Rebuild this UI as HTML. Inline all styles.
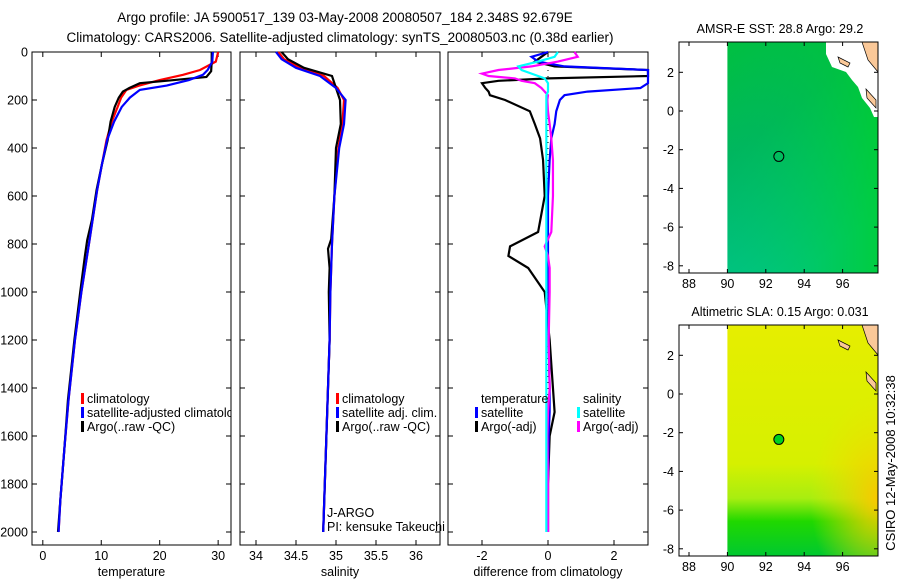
<!DOCTYPE html>
<html><head><meta charset="utf-8"><style>
body{margin:0;background:#fff;}
svg{display:block;font-family:"Liberation Sans",sans-serif;}
</style></head><body>
<svg id="chart" width="900" height="580" viewBox="0 0 900 580" xmlns="http://www.w3.org/2000/svg">
<defs>
<linearGradient id="sstg" x1="0" y1="0" x2="0.5" y2="1">
<stop offset="0" stop-color="#00c040"/><stop offset="0.4" stop-color="#00b660"/><stop offset="1" stop-color="#00c88e"/>
</linearGradient>
<linearGradient id="sstr" x1="0" y1="0" x2="1" y2="0">
<stop offset="0" stop-color="#00c040" stop-opacity="0"/><stop offset="1" stop-color="#00d020" stop-opacity="0.7"/>
</linearGradient>
<linearGradient id="slag" x1="0" y1="0" x2="0" y2="1">
<stop offset="0" stop-color="#e6ee00"/><stop offset="0.6" stop-color="#d6f000"/><stop offset="0.75" stop-color="#a8ee10"/><stop offset="0.85" stop-color="#20d800"/><stop offset="1" stop-color="#00c830"/>
</linearGradient>
<radialGradient id="slao" cx="1" cy="0.75" r="0.45">
<stop offset="0" stop-color="#f8c800"/><stop offset="1" stop-color="#f0e000" stop-opacity="0"/>
</radialGradient>
</defs>
<g id="titles">
<text x="345" y="22" font-size="13.5" text-anchor="middle">Argo profile: JA 5900517_139 03-May-2008 20080507_184 2.348S 92.679E</text>
<text x="340" y="42" font-size="13.5" text-anchor="middle">Climatology: CARS2006. Satellite-adjusted climatology: synTS_20080503.nc (0.38d earlier)</text>
<text transform="translate(895,463) rotate(-90)" font-size="13" text-anchor="middle">CSIRO 12-May-2008 10:32:38</text>
</g>
<g id="plots"></g>
</svg>
<script>
// depth levels (m) for temperature/salinity profiles
const tDepthClim = [0,40,75,95,117,140,158,190,229,290,367,470,575,783,1000,1200,1450,1650,1867,2000];
const tempClim  = [30,29.6,26.9,24,20,16.5,14.3,13.4,12.8,11.8,10.9,10.1,9.3,8,6.6,5.5,4.4,3.7,3.0,2.7];
const tempSat   = [29.1,29.0,28.2,27.4,25,21.2,16.6,14.9,13.5,12.2,11,10.1,9.3,8,6.6,5.5,4.4,3.7,3.0,2.7];
const tDepthArgo = [0,40,80,104,118,130,150,165,190,229,290,367,470,575,700,783,850,1000,1200,1450,1650,1867,2000];
const tempArgo  = [28.9,28.9,28.8,28.0,22,16.6,14.8,13.7,13.0,12.3,11.6,11.1,10.1,9.2,8.4,7.6,7.2,6.4,5.4,4.3,3.7,3.0,2.6];
const sDepth   = [0,30,66,100,150,200,300,400,600,800,1000,1200,1400,1600,1800,2000];
const salClim  = [34.28,34.35,34.55,34.85,35.02,35.1,35.08,35.03,34.98,34.95,34.93,34.92,34.9,34.88,34.86,34.84];
const salSat   = [34.25,34.32,34.5,34.8,35.0,35.12,35.1,35.04,34.98,34.95,34.93,34.92,34.9,34.88,34.86,34.84];
const sDepthArgo = [0,30,66,100,150,200,300,400,600,780,820,900,1000,1200,1400,1600,1800,2000];
const salArgo  = [34.32,34.4,34.6,34.95,35.0,35.05,35.06,35.0,34.98,34.94,34.9,34.92,34.91,34.92,34.9,34.88,34.86,34.84];
// differences from climatology
const dDepth = [0,20,40,60,75,90,100,110,120,130,150,165,180,200,247,300,360,450,600,750,810,850,900,1000,1200,1400,1500,1600,1800,2000];
const dTempArgo = [0,-0.2,-0.4,0.2,3.1,3.1,3.1,0,-1.5,-2.0,-1.9,-1.8,-1.76,-1.3,-0.55,-0.4,-0.24,-0.15,-0.1,-0.3,-1.15,-1.2,-0.6,-0.1,0.05,0.15,0.2,0.05,0,0];
const dTempSat = [0,-0.5,-0.3,0.5,3.1,3.1,3.1,3.1,3.1,3.1,2.8,1.2,0.5,0.36,0.25,0.2,0.1,0.05,0,0,0,0,0,0.02,0.02,0.05,0.05,0.02,0,0];
const dSalArgo = [0.8,0.9,0.3,-0.5,-1.5,-2.0,-1.8,-1.0,-0.8,-0.4,-0.2,-0.1,0,-0.02,0,0.05,0.1,0.15,0.15,0.1,-0.1,0.0,0.05,0.05,0.02,0.05,0.0,-0.02,0,0];
const dSalSat = [0.3,0.2,-0.3,-0.9,-0.8,-0.5,-0.3,-0.1,-0.05,0,0,0,-0.05,-0.05,-0.05,-0.05,-0.05,-0.05,-0.05,-0.05,-0.05,-0.05,-0.05,-0.05,-0.05,-0.05,-0.05,-0.05,-0.05,-0.05];
const depthTicks = [0,200,400,600,800,1000,1200,1400,1600,1800,2000];
const tempTicks = [0,10,20,30];
const salTicks = [34,34.5,35,35.5,36];
const diffTicks = [-2,0,2];
const lonTicks = [88,90,92,94,96];
const latTicks = [2,0,-2,-4,-6,-8];
const floatPos = [92.679,-2.348];

const NS="http://www.w3.org/2000/svg";
const root=document.getElementById('plots');
function mk(tag,attrs,parent){const e=document.createElementNS(NS,tag);for(const k in attrs)e.setAttribute(k,attrs[k]);(parent||root).appendChild(e);return e;}
const yD=d=>52+d*0.24;

function panel(name,x0,x1,xmin,xmax,xticks,xlabel,showY){
  const g=mk('g',{});
  
  
  const xs=v=>x0+(v-xmin)/(xmax-xmin)*(x1-x0);
  mk('rect',{x:x0,y:52,width:x1-x0,height:493,fill:'none',stroke:'#000','stroke-width':1},g);
  xticks.forEach(t=>{const x=xs(t);
    mk('line',{x1:x,x2:x,y1:52,y2:57,stroke:'#000'},g);
    mk('line',{x1:x,x2:x,y1:545,y2:540,stroke:'#000'},g);
    const tx=mk('text',{x:x,y:560,'font-size':12.5,'text-anchor':'middle'},g);
    
    
    tx.textContent=t;});
  depthTicks.forEach(d=>{const y=yD(d);
    mk('line',{x1:x0,x2:x0+5,y1:y,y2:y,stroke:'#000'},g);
    mk('line',{x1:x1,x2:x1-5,y1:y,y2:y,stroke:'#000'},g);
    if(showY){const tx=mk('text',{x:x0-4,y:y+4.5,'font-size':12.5,'text-anchor':'end'},g);
      
      
      tx.textContent=d;}});
  const lb=mk('text',{x:(x0+x1)/2,y:576,'font-size':12.5,'text-anchor':'middle'},g);
  
  
  lb.textContent=xlabel;
  return {g,xs};
}
function line(p,vals,depths,color,w,name){
  const pts=vals.map((v,i)=>[Math.max(p.x0,Math.min(p.x1,p.xs(v))),yD(depths[i])].join(',')).join(' ');
  const l=mk('polyline',{points:pts,fill:'none',stroke:color,'stroke-width':w},p.g);
  
  
}
function legend(g,x,y,items){
  items.forEach((it,i)=>{const yy=y+i*14;
    if(it[1]){const r=mk('rect',{x:x,y:yy-10,width:3,height:11,fill:it[1]},g);
      
      }
    const t=mk('text',{x:x+6,y:yy,'font-size':12.5},g);
    
    
    t.textContent=it[0];});
}
// temperature panel
let p1=panel('temperature-panel',32,231,-1.85,32.2,tempTicks,'temperature',true);p1.x0=32;p1.x1=231;
line(p1,tempClim,tDepthClim,'#f00',2.2,'temp-climatology-line');
line(p1,tempArgo,tDepthArgo,'#000',2.2,'temp-argo-line');
line(p1,tempSat,tDepthClim,'#00f',2.2,'temp-satellite-line');
const cl=mk('svg',{x:32,y:52,width:199,height:493,overflow:'hidden'},p1.g);
legend(cl,49,351,[['climatology','#f00'],['satellite-adjusted climatology','#00f'],['Argo(..raw -QC)','#000']]);
// salinity panel
let p2=panel('salinity-panel',240,440,33.8,36.3,salTicks,'salinity',false);p2.x0=240;p2.x1=440;
line(p2,salClim,sDepth,'#f00',2.2,'sal-climatology-line');
line(p2,salArgo,sDepthArgo,'#000',2.2,'sal-argo-line');
line(p2,salSat,sDepth,'#00f',2.2,'sal-satellite-line');
legend(p2.g,336,403,[['climatology','#f00'],['satellite adj. clim.','#00f'],['Argo(..raw -QC)','#000']]);
legend(p2.g,321,517,[['J-ARGO',null],['PI: kensuke Takeuchi',null]]);
// difference panel
let p3=panel('difference-panel',448,648,-3.03,3.03,diffTicks,'difference from climatology',false);p3.x0=448;p3.x1=648;
for(let d=0;d<2000;d+=25){mk('rect',{x:547.5,y:yD(d),width:1,height:1,fill:'#000'},p3.g);}
line(p3,dTempArgo,dDepth,'#000',2.2,'diff-temp-argo-line');
line(p3,dTempSat,dDepth,'#00f',2.2,'diff-temp-satellite-line');
line(p3,dSalArgo,dDepth,'#f0f',2.2,'diff-sal-argo-line');
line(p3,dSalSat,dDepth,'#0ff',2.2,'diff-sal-satellite-line');
legend(p3.g,475,403,[['temperature',null],['satellite','#00f'],['Argo(-adj)','#000']]);
legend(p3.g,577,403,[['salinity',null],['satellite','#0ff'],['Argo(-adj)','#f0f']]);

// maps
function map(name,top,title,fillId,overlay,dotFill){
  const g=mk('g',{});
  
  
  const x0=679,x1=878,y1=top+231;
  const lx=v=>689+(v-88)*19.2;
  const ly=v=>top+69+(0-v)*19.35;
  mk('rect',{x:lx(90),y:top,width:x1-lx(90),height:231,fill:'url(#'+fillId+')'},g);
  if(overlay)mk('rect',{x:lx(90),y:top,width:x1-lx(90),height:231,fill:'url(#'+overlay+')'},g);
  if(fillId==='sstg')mk('polygon',{points:`826,${top} 878,${top} 878,${top+75} 874,${top+75} 870,${top+66} 862,${top+56} 858,${top+45} 852,${top+38} 846,${top+30} 832,${top+25} 826,${top+12}`,fill:'#fff'},g);
  mk('polygon',{points:`862,${top} 878,${top} 878,${top+30} 868,${top+18}`,fill:'#fac898',stroke:'#000','stroke-width':0.7},g);
  mk('polygon',{points:`838,${top+15} 850,${top+21} 848,${top+25} 840,${top+21}`,fill:'#fac898',stroke:'#000','stroke-width':0.7},g);
  mk('polygon',{points:`866,${top+47} 876,${top+58} 876,${top+66} 867,${top+56}`,fill:'#fac898',stroke:'#000','stroke-width':0.7},g);
  mk('rect',{x:x0,y:top,width:x1-x0,height:231,fill:'none',stroke:'#000'},g);
  lonTicks.forEach(v=>{const x=lx(v);
    mk('line',{x1:x,x2:x,y1:top,y2:top+4,stroke:'#000'},g);
    mk('line',{x1:x,x2:x,y1:y1,y2:y1-4,stroke:'#000'},g);
    const t=mk('text',{x:x,y:y1+15,'font-size':12.5,'text-anchor':'middle'},g);
    
    
    t.textContent=v;});
  latTicks.forEach(v=>{const y=ly(v);
    mk('line',{x1:x0,x2:x0+4,y1:y,y2:y,stroke:'#000'},g);
    mk('line',{x1:x1,x2:x1-4,y1:y,y2:y,stroke:'#000'},g);
    const t=mk('text',{x:x0-5,y:y+4.5,'font-size':12.5,'text-anchor':'end'},g);
    
    
    t.textContent=v;});
  const c=mk('circle',{cx:lx(floatPos[0]),cy:ly(floatPos[1]),r:5,fill:dotFill,stroke:'#000','stroke-width':1},g);
  
  
  const t=mk('text',{x:780,y:top-9,'font-size':12.5,'text-anchor':'middle'},g);
  
  
  t.textContent=title;
}
map('sst-map',42,'AMSR-E SST: 28.8 Argo: 29.2','sstg','sstr','none');
map('sla-map',325,'Altimetric SLA: 0.15 Argo: 0.031','slag','slao','#00d020');
</script>
</body></html>
